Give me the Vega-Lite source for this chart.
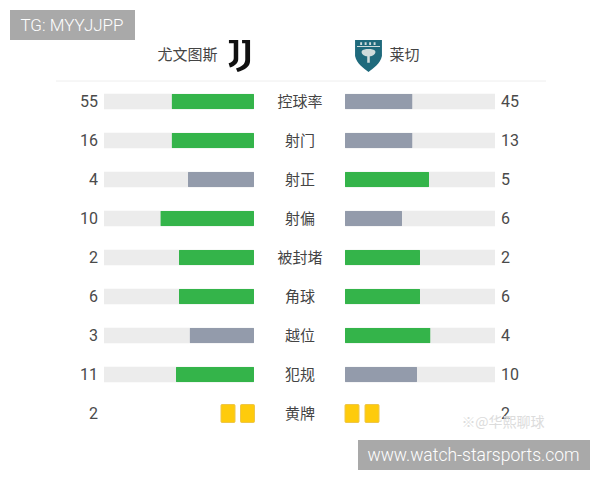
{
"$schema":"https://vega.github.io/schema/vega-lite/v6.json",
"width":600,"height":480,"padding":0,"autosize":{"type":"fit","contains":"padding"},
"background":"#ffffff",
"config":{"view":{"stroke":null},"axis":{"disable":true},"legend":{"disable":true}},
"datasets":{
"stats":[
{"stat":"控球率","team":"尤文图斯","value":55,"share":55,"status":"领先"},
{"stat":"控球率","team":"莱切","value":45,"share":45,"status":"落后"},
{"stat":"射门","team":"尤文图斯","value":16,"share":55,"status":"领先"},
{"stat":"射门","team":"莱切","value":13,"share":45,"status":"落后"},
{"stat":"射正","team":"尤文图斯","value":4,"share":44,"status":"落后"},
{"stat":"射正","team":"莱切","value":5,"share":56,"status":"领先"},
{"stat":"射偏","team":"尤文图斯","value":10,"share":62.5,"status":"领先"},
{"stat":"射偏","team":"莱切","value":6,"share":38,"status":"落后"},
{"stat":"被封堵","team":"尤文图斯","value":2,"share":50,"status":"领先"},
{"stat":"被封堵","team":"莱切","value":2,"share":50,"status":"领先"},
{"stat":"角球","team":"尤文图斯","value":6,"share":50,"status":"领先"},
{"stat":"角球","team":"莱切","value":6,"share":50,"status":"领先"},
{"stat":"越位","team":"尤文图斯","value":3,"share":43,"status":"落后"},
{"stat":"越位","team":"莱切","value":4,"share":57,"status":"领先"},
{"stat":"犯规","team":"尤文图斯","value":11,"share":52,"status":"领先"},
{"stat":"犯规","team":"莱切","value":10,"share":48,"status":"落后"},
{"stat":"黄牌","team":"尤文图斯","value":2},
{"stat":"黄牌","team":"莱切","value":2}
],
"cards":[
{"stat":"黄牌","team":"尤文图斯","card":1},
{"stat":"黄牌","team":"尤文图斯","card":2},
{"stat":"黄牌","team":"莱切","card":1},
{"stat":"黄牌","team":"莱切","card":2}
],
"teams":[{"team":"尤文图斯"},{"team":"莱切"}],
"marks":[{"text":"TG: MYYJJPP"},{"text":"www.watch-starsports.com"},{"text":"※@华熙聊球"}]
},
"resolve":{"scale":{"x":"independent","y":"independent"}},
"layer":[
{"data":{"name":"teams"},"mark":{"type":"rule","stroke":"#f4f4f4","strokeWidth":1},
 "encoding":{"x":{"datum":56,"scale":{"domain":[0,600]}},"x2":{"datum":546},"y":{"datum":81,"scale":{"domain":[480,0]}}}},
{"data":{"name":"stats"},"transform":[{"filter":"datum.team=='尤文图斯' && isValid(datum.share)"}],
 "mark":{"type":"bar","size":15.5,"color":"#ececec"},
 "encoding":{"x":{"datum":100,"type":"quantitative","scale":{"domain":[100,0],"range":[104,254]}},"x2":{"datum":0},
 "y":{"field":"stat","type":"nominal","sort":null,"scale":{"type":"point","padding":0,"domain":["控球率","射门","射正","射偏","被封堵","角球","越位","犯规","黄牌"],"range":[101.5,413.5]}}}},
{"data":{"name":"stats"},"transform":[{"filter":"datum.team=='莱切' && isValid(datum.share)"}],
 "mark":{"type":"bar","size":15.5,"color":"#ececec"},
 "encoding":{"x":{"datum":100,"type":"quantitative","scale":{"domain":[0,100],"range":[345,495]}},
 "y":{"field":"stat","type":"nominal","sort":null,"scale":{"type":"point","padding":0,"domain":["控球率","射门","射正","射偏","被封堵","角球","越位","犯规","黄牌"],"range":[101.5,413.5]}}}},
{"data":{"name":"stats"},"transform":[{"filter":"datum.team=='尤文图斯' && isValid(datum.share)"}],
 "mark":{"type":"bar","size":15.5,"cornerRadius":1},
 "encoding":{"x":{"field":"share","type":"quantitative","scale":{"domain":[100,0],"range":[104,254]}},
 "y":{"field":"stat","type":"nominal","sort":null,"scale":{"type":"point","padding":0,"domain":["控球率","射门","射正","射偏","被封堵","角球","越位","犯规","黄牌"],"range":[101.5,413.5]}},
 "color":{"field":"status","type":"nominal","scale":{"domain":["领先","落后"],"range":["#34b44a","#939bab"]}}}},
{"data":{"name":"stats"},"transform":[{"filter":"datum.team=='莱切' && isValid(datum.share)"}],
 "mark":{"type":"bar","size":15.5,"cornerRadius":1},
 "encoding":{"x":{"field":"share","type":"quantitative","scale":{"domain":[0,100],"range":[345,495]}},
 "y":{"field":"stat","type":"nominal","sort":null,"scale":{"type":"point","padding":0,"domain":["控球率","射门","射正","射偏","被封堵","角球","越位","犯规","黄牌"],"range":[101.5,413.5]}},
 "color":{"field":"status","type":"nominal","scale":{"domain":["领先","落后"],"range":["#34b44a","#939bab"]}}}},
{"data":{"name":"cards"},"transform":[{"filter":"datum.team=='尤文图斯'"}],
 "mark":{"type":"rect","width":14,"height":18,"fill":"#fecb0c","stroke":"#eec64a","strokeWidth":1,"cornerRadius":1},
 "encoding":{"x":{"field":"card","type":"ordinal","scale":{"type":"point","padding":0,"domain":[2,1],"range":[228,247.5]}},
 "y":{"field":"stat","type":"nominal","scale":{"type":"point","padding":0,"domain":["控球率","射门","射正","射偏","被封堵","角球","越位","犯规","黄牌"],"range":[101.5,413.5]}}}},
{"data":{"name":"cards"},"transform":[{"filter":"datum.team=='莱切'"}],
 "mark":{"type":"rect","width":14,"height":18,"fill":"#fecb0c","stroke":"#eec64a","strokeWidth":1,"cornerRadius":1},
 "encoding":{"x":{"field":"card","type":"ordinal","scale":{"type":"point","padding":0,"domain":[1,2],"range":[352,372]}},
 "y":{"field":"stat","type":"nominal","scale":{"type":"point","padding":0,"domain":["控球率","射门","射正","射偏","被封堵","角球","越位","犯规","黄牌"],"range":[101.5,413.5]}}}},
{"data":{"name":"stats"},"transform":[{"filter":"datum.team=='尤文图斯'"}],
 "mark":{"type":"text","align":"right","baseline":"middle","dx":-6,"font":"Roboto","fontSize":16,"fill":"#4a4a4a"},
 "encoding":{"x":{"datum":100,"type":"quantitative","scale":{"domain":[100,0],"range":[104,254]}},
 "y":{"field":"stat","type":"nominal","scale":{"type":"point","padding":0,"domain":["控球率","射门","射正","射偏","被封堵","角球","越位","犯规","黄牌"],"range":[101.5,413.5]}},
 "text":{"field":"value","type":"quantitative"}}},
{"data":{"name":"stats"},"transform":[{"filter":"datum.team=='莱切'"}],
 "mark":{"type":"text","align":"left","baseline":"middle","dx":6,"font":"Roboto","fontSize":16,"fill":"#4a4a4a"},
 "encoding":{"x":{"datum":100,"type":"quantitative","scale":{"domain":[0,100],"range":[345,495]}},
 "y":{"field":"stat","type":"nominal","scale":{"type":"point","padding":0,"domain":["控球率","射门","射正","射偏","被封堵","角球","越位","犯规","黄牌"],"range":[101.5,413.5]}},
 "text":{"field":"value","type":"quantitative"}}},
{"data":{"name":"stats"},"transform":[{"filter":"datum.team=='莱切'"}],
 "mark":{"type":"text","align":"center","baseline":"middle","font":"Noto Sans CJK SC","fontSize":15,"fill":"#444444"},
 "encoding":{"x":{"datum":300,"scale":{"domain":[0,600]}},
 "y":{"field":"stat","type":"nominal","scale":{"type":"point","padding":0,"domain":["控球率","射门","射正","射偏","被封堵","角球","越位","犯规","黄牌"],"range":[101.5,413.5]}},
 "text":{"field":"stat","type":"nominal"}}},
{"data":{"name":"teams"},
 "mark":{"type":"text","align":"center","baseline":"middle","font":"Noto Sans CJK SC","fontSize":15,"fill":"#444444"},
 "encoding":{"x":{"field":"team","type":"nominal","scale":{"type":"point","padding":0,"domain":["尤文图斯","莱切"],"range":[187.5,404.5]}},
 "y":{"datum":55,"scale":{"domain":[480,0]}},
 "text":{"field":"team","type":"nominal"}}},
{"data":{"name":"teams"},"transform":[{"filter":"datum.team=='尤文图斯'"}],
 "mark":{"type":"point","filled":true,"opacity":1,"fill":"#111111","strokeWidth":0,"size":1024,
 "shape":"M-0.66,-1 L-0.08,-1 L-0.08,0.2 C-0.08,0.45 -0.3,0.62 -0.6,0.72 L-0.68,0.46 C-0.48,0.38 -0.36,0.3 -0.36,0.14 L-0.36,-0.8 L-0.66,-0.8 Z M0.16,-1 L0.66,-1 L0.66,0.32 C0.66,0.68 0.3,0.9 -0.12,1 L-0.22,0.78 C0.14,0.68 0.36,0.5 0.36,0.22 L0.36,-0.8 L0.16,-0.8 Z"},
 "encoding":{"x":{"datum":239.5,"scale":{"domain":[0,600]}},"y":{"datum":56,"scale":{"domain":[480,0]}}}},
{"data":{"name":"teams"},"transform":[{"filter":"datum.team=='莱切'"}],
 "mark":{"type":"point","filled":true,"opacity":1,"fill":"#1f6a7c","strokeWidth":0,"size":1024,
 "shape":"M-0.84,-1 L0.84,-1 L0.84,0 C0.74,0.5 0.3,0.76 0,1 C-0.3,0.76 -0.74,0.5 -0.84,0 Z"},
 "encoding":{"x":{"datum":368.5,"scale":{"domain":[0,600]}},"y":{"datum":56,"scale":{"domain":[480,0]}}}},
{"data":{"name":"teams"},"transform":[{"filter":"datum.team=='莱切'"}],
 "mark":{"type":"point","filled":true,"opacity":1,"fill":"#cfdcdc","strokeWidth":0,"size":1024,
 "shape":"M-0.72,-0.62 L0.72,-0.62 L0.72,-0.56 L-0.72,-0.56 Z M-0.52,-0.86 L-0.4,-0.86 L-0.4,-0.68 L-0.52,-0.68 Z M-0.24,-0.86 L-0.12,-0.86 L-0.12,-0.68 L-0.24,-0.68 Z M0.04,-0.86 L0.16,-0.86 L0.16,-0.68 L0.04,-0.68 Z M0.32,-0.86 L0.44,-0.86 L0.44,-0.68 L0.32,-0.68 Z M-0.42,-0.32 C-0.3,-0.48 0.3,-0.48 0.42,-0.32 C0.48,-0.15 0.3,0 0.08,0.02 L0.08,0.42 L-0.08,0.42 L-0.08,0.02 C-0.3,0 -0.48,-0.15 -0.42,-0.32 Z"},
 "encoding":{"x":{"datum":368.5,"scale":{"domain":[0,600]}},"y":{"datum":56,"scale":{"domain":[480,0]}}}},
{"data":{"name":"marks"},"transform":[{"filter":"datum.text=='※@华熙聊球'"}],
 "mark":{"type":"text","align":"center","baseline":"middle","font":"Noto Sans CJK SC","fontSize":14,"fill":"#dcdcdc"},
 "encoding":{"x":{"datum":503,"scale":{"domain":[0,600]}},"y":{"datum":423,"scale":{"domain":[480,0]}},"text":{"field":"text"}}},
{"data":{"name":"marks"},"transform":[{"filter":"datum.text=='TG: MYYJJPP'"}],
 "mark":{"type":"rect","fill":"#a9a9a9"},
 "encoding":{"x":{"datum":10,"scale":{"domain":[0,600]}},"x2":{"datum":135},"y":{"datum":10,"scale":{"domain":[480,0]}},"y2":{"datum":40}}},
{"data":{"name":"marks"},"transform":[{"filter":"datum.text=='www.watch-starsports.com'"}],
 "mark":{"type":"rect","fill":"#a9a9a9"},
 "encoding":{"x":{"datum":358,"scale":{"domain":[0,600]}},"x2":{"datum":590},"y":{"datum":440,"scale":{"domain":[480,0]}},"y2":{"datum":470}}},
{"data":{"name":"marks"},"transform":[{"filter":"datum.text=='TG: MYYJJPP'"}],
 "mark":{"type":"text","align":"center","baseline":"middle","font":"Roboto","fontWeight":300,"fontSize":17,"fill":"#ffffff"},
 "encoding":{"x":{"datum":72,"scale":{"domain":[0,600]}},"y":{"datum":25.5,"scale":{"domain":[480,0]}},"text":{"field":"text"}}},
{"data":{"name":"marks"},"transform":[{"filter":"datum.text=='www.watch-starsports.com'"}],
 "mark":{"type":"text","align":"center","baseline":"middle","font":"Roboto","fontWeight":300,"fontSize":17.5,"fill":"#ffffff"},
 "encoding":{"x":{"datum":473.5,"scale":{"domain":[0,600]}},"y":{"datum":455.5,"scale":{"domain":[480,0]}},"text":{"field":"text"}}}
]
}
